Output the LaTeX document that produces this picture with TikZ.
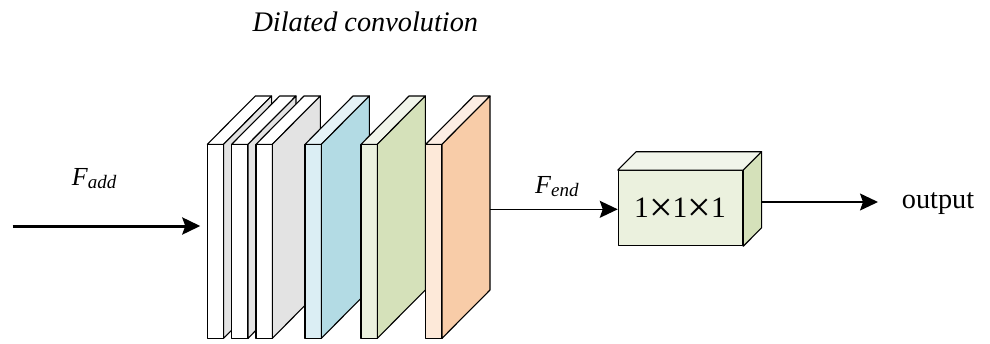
\documentclass[tikz,border=0pt]{standalone}
\usepackage{fontspec}
\setmainfont{Liberation Serif}
\usetikzlibrary{arrows.meta}
\definecolor{slabgray}{HTML}{E3E3E3}
\definecolor{bluefront}{HTML}{DBEEF4}
\definecolor{bluetop}{HTML}{E6F3F7}
\definecolor{blueside}{HTML}{B3DBE4}
\definecolor{greenfront}{HTML}{EBF1DE}
\definecolor{greentop}{HTML}{F1F5EA}
\definecolor{greenside}{HTML}{D5E1BA}
\definecolor{orangefront}{HTML}{FDE9D9}
\definecolor{orangetop}{HTML}{FDEEE4}
\definecolor{orangeside}{HTML}{F8CCA8}
\newcommand\crossx{\raisebox{-4pt}{\fontsize{42}{42}\selectfont ×}}
\begin{document}
\begin{tikzpicture}[x=1pt,y=-1pt,line join=round,
  face/.style={draw=black,line width=1.1pt},
  lbl/.style={font=\fontsize{26}{30}\selectfont,inner sep=0pt},
  arr/.style={-{Stealth[length=18pt,width=17pt,inset=3pt]},line width=1.3pt}]
\useasboundingbox (0,0) rectangle (990,343);
% title
\node[lbl,font=\fontsize{28.3}{30}\selectfont\itshape,anchor=base west] (title) at (252.3,31.5) {Dilated convolution};
% slabs
\foreach \x/\fc/\tc/\sc/\nm in {207.3/white/white/slabgray/s1,
  231.7/white/white/slabgray/s2,
  256/white/white/slabgray/s3,
  305/bluefront/bluetop/blueside/s4,
  361/greenfront/greentop/greenside/s5,
  425.7/orangefront/orangetop/orangeside/s6}{
  \path[face,fill=\fc] (\x,144.3) rectangle (\x+16.3,338.3);
  \path[face,fill=\tc] (\x,144.3) -- (\x+48,96) -- (\x+64.3,96) -- (\x+16.3,144.3) -- cycle;
  \path[face,fill=\sc] (\x+16.3,144.3) -- (\x+64.3,96) -- (\x+64.3,290) -- (\x+16.3,338.3) -- cycle;
  \coordinate (\nm front) at (\x,226);
  \coordinate (\nm out) at (\x+64.3,209.3);
}
% 1x1x1 box
\node[face,fill=greenfront,minimum width=124.4pt,minimum height=75pt,inner sep=0pt] (box) at (680.5,208.2) {};
\path[face,fill=greentop] (box.north west) -- ++(18.3,-18.4) -- ([xshift=18.3pt,yshift=18.4pt]box.north east) -- (box.north east) -- cycle;
\path[face,fill=greenside] (box.north east) -- ++(18.3,-18.4) -- ([xshift=18.3pt,yshift=18.4pt]box.south east) -- (box.south east) -- cycle;
\node[lbl,font=\fontsize{29.6}{32}\selectfont,anchor=base west] (boxtext) at (634,217.7) {1\crossx 1\crossx 1};
\coordinate (boxout) at ([xshift=18.3pt]box.east |- 0,202);
% labels
\node[lbl,anchor=base west] (fadd) at (71.7,185) {\itshape F\raisebox{-3pt}{\fontsize{19}{20}\selectfont add}};
\node[lbl,anchor=base west] (fend) at (535,193.3) {\itshape F\raisebox{-3pt}{\fontsize{19}{20}\selectfont end}};
\node[lbl,font=\fontsize{28.3}{30}\selectfont,anchor=base west] (outtext) at (901.7,208) {output};
% connectors
\coordinate (fin) at (12.7,226);
\draw[arr,line width=3pt,shorten >=7pt] (fin) -- (s1front);
\draw[arr] (s6out) -- (box.west |- s6out);
\draw[arr] (boxout) -- ([xshift=-23.7pt]outtext.west |- boxout);
\end{tikzpicture}
\end{document}
